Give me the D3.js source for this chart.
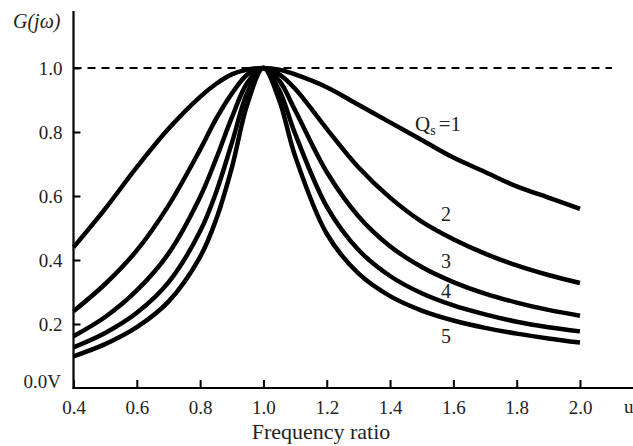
<!DOCTYPE html>
<html>
<head>
<meta charset="utf-8">
<script src="https://cdn.jsdelivr.net/npm/d3@7"></script>
<style>
  html, body { margin: 0; padding: 0; background: #fff; }
  svg { display: block; font-family: "Liberation Serif", "Times New Roman", serif; }
</style>
</head>
<body>
<svg id="chart" width="633" height="446"></svg>
<script>
/* ---------- data ---------------------------------------------- */
const ratio = [0.4, 0.5, 0.6, 0.7, 0.8, 0.85, 0.9, 0.95, 1.0, 1.05, 1.1, 1.2, 1.3, 1.4, 1.5, 1.6, 1.7, 1.8, 1.9, 2.0];

const gainQ1 = [0.44, 0.56, 0.69, 0.81, 0.91, 0.95, 0.98, 0.995, 1.0, 0.995, 0.98, 0.94, 0.885, 0.83, 0.775, 0.72, 0.675, 0.63, 0.595, 0.56];
const gainQ2 = [0.24, 0.325, 0.43, 0.57, 0.745, 0.84, 0.92, 0.98, 1.0, 0.98, 0.935, 0.81, 0.69, 0.595, 0.52, 0.465, 0.42, 0.383, 0.353, 0.328];
const gainQ3 = [0.162, 0.222, 0.305, 0.42, 0.597, 0.715, 0.845, 0.955, 1.0, 0.96, 0.868, 0.675, 0.537, 0.443, 0.378, 0.331, 0.295, 0.267, 0.244, 0.226];
const gainQ4 = [0.127, 0.172, 0.235, 0.33, 0.49, 0.61, 0.765, 0.925, 1.0, 0.93, 0.795, 0.567, 0.432, 0.35, 0.296, 0.258, 0.23, 0.207, 0.19, 0.177];
const gainQ5 = [0.099, 0.137, 0.19, 0.27, 0.41, 0.525, 0.688, 0.89, 1.0, 0.899, 0.725, 0.482, 0.358, 0.287, 0.242, 0.211, 0.188, 0.17, 0.155, 0.142];

const series = [
  {q: "1", gain: gainQ1},
  {q: "2", gain: gainQ2},
  {q: "3", gain: gainQ3},
  {q: "4", gain: gainQ4},
  {q: "5", gain: gainQ5}
];

const xTicks = [0.4, 0.6, 0.8, 1.0, 1.2, 1.4, 1.6, 1.8, 2.0];
const yTicks = [0.2, 0.4, 0.6, 0.8, 1.0];
const refLevel = 1.0;

/* ---------- scales -------------------------------------------- */
const svg = d3.select("#chart");
const W = 633;
const x = d3.scaleLinear().domain([0.4, 2.0]).range([73.5, 580]);
const y = d3.scaleLinear().domain([0, 1]).range([388, 68]);
const x0 = x.range()[0], yBase = y(0);

/* ---------- reference dashed line at 1.0 ---------------------- */
svg.append("line")
    .attr("x1", x0).attr("x2", 612)
    .attr("y1", y(refLevel)).attr("y2", y(refLevel))
    .attr("stroke", "#000")
    .attr("stroke-width", 2)
    .attr("stroke-dasharray", "8,6");

/* ---------- curves -------------------------------------------- */
const line = d3.line()
    .x((d, i) => x(ratio[i]))
    .y(d => y(d))
    .curve(d3.curveCatmullRom.alpha(0.5));

svg.append("g")
  .selectAll("path")
  .data(series)
  .enter().append("path")
    .attr("d", d => line(d.gain))
    .attr("fill", "none")
    .attr("stroke", "#000")
    .attr("stroke-width", 4.5)
    .attr("stroke-linejoin", "round");

/* ---------- axes ---------------------------------------------- */
const xAxis = svg.append("g")
    .attr("transform", `translate(0,${yBase})`)
    .call(d3.axisBottom(x).tickValues(xTicks).tickSize(-8).tickPadding(13)
            .tickFormat(d3.format(".1f")));
const yAxis = svg.append("g")
    .attr("transform", `translate(${x0},0)`)
    .call(d3.axisLeft(y).tickValues(yTicks).tickSize(-7).tickPadding(11)
            .tickFormat(d3.format(".1f")));

[xAxis, yAxis].forEach(g => {
  g.select(".domain").remove();
  g.selectAll(".tick line").attr("stroke", "#000").attr("stroke-width", 2);
  g.selectAll(".tick text")
    .attr("fill", "#222")
    .attr("font-size", 19)
    .attr("font-family", "Liberation Serif, serif");
});

// axis lines (y goes up past the 1.0 level, x runs to the edge)
svg.append("line")
    .attr("x1", x0).attr("x2", x0).attr("y1", 11).attr("y2", yBase + 1)
    .attr("stroke", "#000").attr("stroke-width", 2.2);
svg.append("line")
    .attr("x1", x0 - 1).attr("x2", W).attr("y1", yBase).attr("y2", yBase)
    .attr("stroke", "#000").attr("stroke-width", 2.2);

/* ---------- text ---------------------------------------------- */
const txt = (s, px, py, opts = {}) => svg.append("text")
    .attr("x", px).attr("y", py)
    .attr("font-size", opts.size || 19)
    .attr("text-anchor", opts.anchor || "start")
    .attr("font-style", opts.style || "normal")
    .attr("fill", "#222")
    .text(s);

txt("0.0V", 61, yBase, {anchor: "end"});
txt("u", 624, 413);
txt("Frequency ratio", 321, 439, {anchor: "middle", size: 22});
txt("G(jω)", 13, 28, {style: "italic", size: 20});

// curve labels
const qLab = svg.append("text")
    .attr("x", 415).attr("y", 131)
    .attr("font-size", 21).attr("fill", "#222");
qLab.append("tspan").text("Q");
qLab.append("tspan").attr("font-size", 14).attr("dy", 4).text("s");
qLab.append("tspan").attr("dy", -4).attr("dx", 3).text("=1");

const numLabels = [["2", 221], ["3", 268], ["4", 298], ["5", 343]];
numLabels.forEach(([s, py]) => txt(s, 446, py, {anchor: "middle", size: 20}));
</script>
</body>
</html>
